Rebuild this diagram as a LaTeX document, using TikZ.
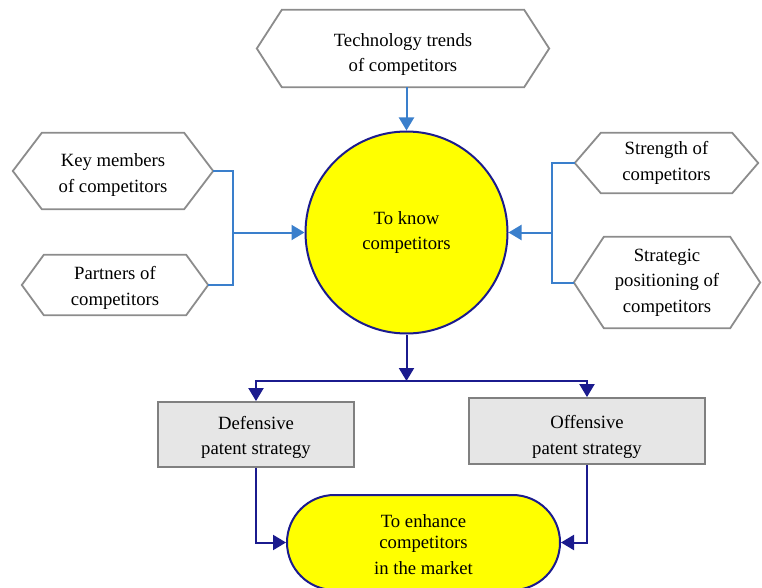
\documentclass[tikz,border=0pt]{standalone}
\usepackage{fontspec}
\setmainfont{Liberation Serif}
\usetikzlibrary{arrows.meta,shapes.misc,backgrounds}
\definecolor{hexgray}{HTML}{8C8C8C}
\definecolor{lblue}{HTML}{3A7FCC}
\definecolor{navy}{HTML}{1B1B8E}
\definecolor{boxfill}{HTML}{E6E6E6}
\definecolor{boxline}{HTML}{808080}
\definecolor{yel}{HTML}{FFFF00}
\newcommand\hexdraw[2]{\draw[hexline] (#1.west) -- ([xshift=#2]#1.north west) -- ([xshift=-#2]#1.north east) -- (#1.east) -- ([xshift=-#2]#1.south east) -- ([xshift=#2]#1.south west) -- cycle;}
\tikzset{
  txt/.style={font=\fontsize{18.7}{25.5}\selectfont, align=center, inner sep=0pt},
  hexnode/.style={inner sep=0pt},
  hexline/.style={draw=hexgray, line width=1.8pt, line join=miter, fill=white},
  lline/.style={draw=lblue, line width=2pt},
  larrow/.style={lline, -{Triangle[length=13pt,width=15pt]}},
  dline/.style={draw=navy, line width=2pt},
  darrow/.style={dline, -{Triangle[length=13pt,width=15pt]}},
  stratbox/.style={draw=boxline, fill=boxfill, line width=1.8pt, inner sep=0pt},
  yelshape/.style={draw=navy, fill=yel, line width=2pt, inner sep=0pt}
}
\begin{document}
\begin{tikzpicture}[x=1pt,y=-1pt]
\useasboundingbox (0,0) rectangle (762,588);
% hexagons
\node[hexnode, minimum width=292pt, minimum height=77pt] (tech) at (403,48.5) {};
\node[hexnode, minimum width=200pt, minimum height=76pt] (key) at (113,171) {};
\node[hexnode, minimum width=186pt, minimum height=60pt] (part) at (115,285) {};
\node[hexnode, minimum width=183pt, minimum height=60pt] (str) at (666.5,163) {};
\node[hexnode, minimum width=186pt, minimum height=91pt] (pos) at (667,282.5) {};
\hexdraw{tech}{25}
\hexdraw{key}{29}
\hexdraw{part}{22}
\hexdraw{str}{26}
\hexdraw{pos}{30}
\node[txt] (techt) at ([yshift=-6]tech.center) {Technology trends\\of competitors};
\node[txt] (keyt) at ([yshift=-4]key.center) {Key members\\of competitors};
\node[txt] (partt) at ([yshift=-3]part.center) {Partners of\\competitors};
\node[txt] (strt) at (str.center) {Strength of\\competitors};
\node[txt] (post) at (pos.center) {Strategic\\positioning of\\competitors};
% circle
\node[yelshape, circle, minimum size=202pt] (know) at (406.5,232.5) {};
\node[txt] (knowt) at (know.center) {To know\\competitors};
% boxes
\node[stratbox, minimum width=196pt, minimum height=65pt] (def) at (256,434.5) {};
\node[stratbox, minimum width=236pt, minimum height=66pt] (off) at (587,431) {};
\node[txt] (deft) at ([yshift=-3]def.center) {Defensive\\patent strategy};
\node[txt] (offt) at ([yshift=-6]off.center) {Offensive\\patent strategy};
% stadium
\node[yelshape, rounded rectangle, minimum width=273pt, minimum height=95pt] (enh) at (423.5,542.5) {};
\node[txt] (enht) at ([yshift=-2]enh.center) {To enhance\\[-4pt]competitors\\in the market};
% connectors
\draw[larrow] (know.north |- tech.south) -- (know.north);
\coordinate (lj) at (233,232.5);
\coordinate (rj) at (552,232.5);
\draw[lline] (key.east) -| (lj) |- (part.east);
\draw[larrow] (lj) -- (know.west);
\draw[lline] (str.west) -| (rj) |- (pos.west);
\draw[larrow] (rj) -- (know.east);
\coordinate (dj) at (know.south |- 0,381);
\draw[darrow] (know.south) -- (dj);
\draw[darrow] (dj) -| (def.north);
\draw[darrow] (dj) -| (off.north);
\draw[darrow] (def.south) |- (enh.west);
\draw[darrow] (off.south) |- (enh.east);
\end{tikzpicture}
\end{document}
